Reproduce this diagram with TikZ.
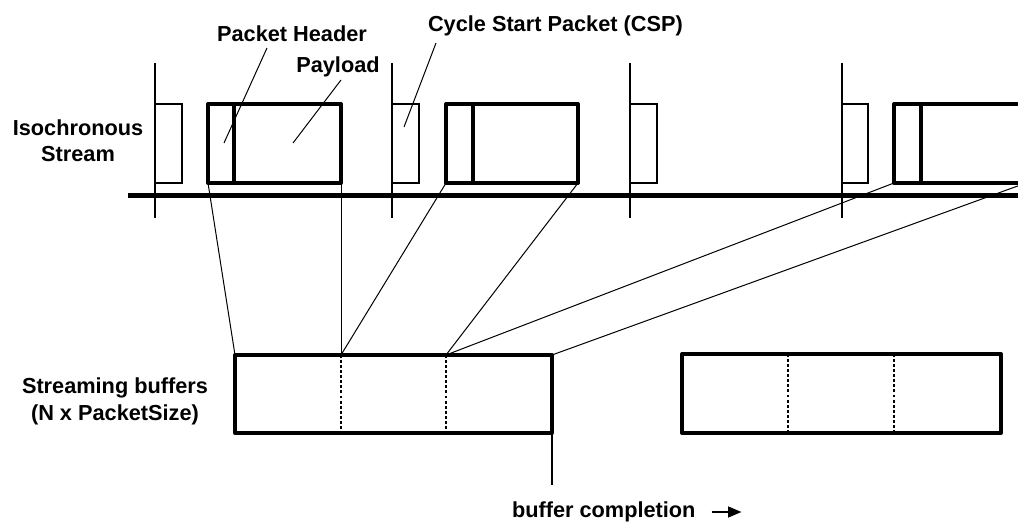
\documentclass[tikz,border=0pt]{standalone}
\usepackage{fontspec}
\setmainfont{Liberation Sans}
\usetikzlibrary{arrows.meta,calc}
\begin{document}
\begin{tikzpicture}[x=0.75pt,y=-0.75pt,
  every node/.style={inner sep=0pt,outer sep=0pt},
  lbl/.style={font=\fontsize{16.3pt}{20.25pt}\selectfont\bfseries},
  size/.style 2 args={minimum width=#1*0.75pt,minimum height=#2*0.75pt,anchor=north west},
  pkt/.style={draw,line width=3pt,line join=round},
  csp/.style={draw,line width=1.4pt},
  buf/.style={draw,line width=3pt,line join=round},
  thinline/.style={line width=0.75pt},
  marker/.style={line width=1.2pt},
  bus/.style={line width=3.75pt},
  cell/.style={line width=0.8pt,dash pattern=on 2.2pt off 1.6pt}]
\useasboundingbox (0,0) rectangle (1018,523);

% cycle boundaries and the bus
\foreach \x in {155,392,630,842} \draw[marker] (\x,63) -- (\x,218);
\draw[bus] (128,196) -- (1018,196);

% cycle start packets
\node[csp,size={27}{79}] (csp1) at (155,104) {};
\node[csp,size={27}{79}] (csp2) at (392,104) {};
\node[csp,size={27}{79}] (csp3) at (630,104) {};
\node[csp,size={26}{79}] (csp4) at (842,104) {};

% isochronous packets: header + payload
\node[pkt,size={26}{79}]  (hdr1) at (208,104) {};
\node[pkt,size={107}{79}] (pay1) at (234,104) {};
\node[pkt,size={27}{79}]  (hdr2) at (446,104) {};
\node[pkt,size={105}{79}] (pay2) at (473,104) {};
\node[pkt,size={27}{79}]  (hdr3) at (894,104) {};
\node[pkt,size={105}{79}] (pay3) at (921,104) {};

% streaming buffers
\node[buf,size={317}{78}] (buf1) at (235,355) {};
\node[buf,size={319}{79}] (buf2) at (682,354) {};
\coordinate (b1a) at (341,355);
\coordinate (b1b) at (446,355);
\draw[cell] (b1a) -- (b1a |- buf1.south);
\draw[cell] (b1b) -- (b1b |- buf1.south);
\draw[cell] (788,354) -- (788,433);
\draw[cell] (894,354) -- (894,433);

% packets mapped into the buffer
\draw[thinline] (hdr1.south west) -- (buf1.north west);
\draw[thinline] (pay1.south east) -- (b1a);
\draw[thinline] (hdr2.south west) -- (b1a);
\draw[thinline] (pay2.south east) -- (b1b);
\draw[thinline] (hdr3.south west) -- (b1b);
\draw[thinline] (pay3.south east) -- (buf1.north east);
\coordinate (done) at (552,485);
\draw[line width=1pt] (buf1.south east) -- (done);

% labels and leaders
\node[lbl,anchor=base] (lblHdr) at (292,42) {Packet Header};
\node[lbl,anchor=base] (lblPay) at (338,73) {Payload};
\node[lbl,anchor=base west] (lblCsp) at (428,32) {Cycle Start Packet (CSP)};
\coordinate (hdrA) at (267,48);  \coordinate (hdrB) at (224,143);
\coordinate (payA) at (341,80);  \coordinate (payB) at (293,143);
\coordinate (cspA) at (436,43);  \coordinate (cspB) at (404,127);
\draw[thinline] (hdrA) -- (hdrB);
\draw[thinline] (payA) -- (payB);
\draw[thinline] (cspA) -- (cspB);

\node[lbl,align=center,font=\fontsize{16.3pt}{19.5pt}\selectfont\bfseries]
  (lblIso) at (78,141) {Isochronous\\Stream};
\node[lbl,align=center] (lblBuf) at (115,401) {Streaming buffers\\(N x PacketSize)};
\node[lbl,anchor=base west] (lblDone) at (512,518) {buffer completion};
\draw[line width=1.6pt,-{Triangle[length=10pt,width=8pt]}]
  ($(lblDone.base east)+(16,-6)$) -- +(30,0);
\end{tikzpicture}
\end{document}
